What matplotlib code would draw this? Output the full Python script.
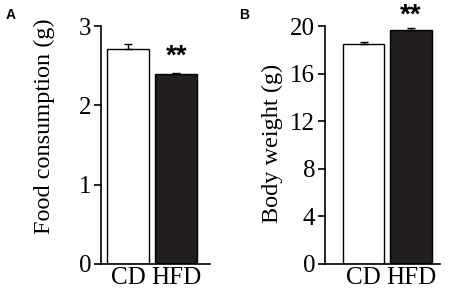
import matplotlib
matplotlib.use("Agg")
import matplotlib.pyplot as plt

categories = ["CD", "HFD"]
food_mean = [2.71, 2.39]
food_err = [0.06, 0.02]
weight_mean = [18.5, 19.7]
weight_err = [0.12, 0.1]
bar_colors = ["white", "#231f20"]

serif = "Liberation Serif"
fig = plt.figure(figsize=(4.54, 2.92), dpi=100)

def panel(rect, means, errs, ylim, yticks, ylabel, xlim, width, label_x, label_y, star_y):
    ax = fig.add_axes(rect)
    x = list(range(len(categories)))
    ax.bar(x, means, width=width, color=bar_colors, edgecolor="black", linewidth=1.0, zorder=2)
    ax.errorbar(x, means, yerr=[[0] * len(errs), errs], fmt="none", ecolor="black",
                elinewidth=1.0, capsize=2.9, capthick=1.0, zorder=3)
    ax.set_xlim(*xlim)
    ax.set_ylim(*ylim)
    ax.set_yticks(yticks)
    ax.set_xticks(x)
    ax.set_xticklabels(categories, fontfamily=serif, fontsize=18)
    for t in ax.get_yticklabels():
        t.set_fontfamily(serif)
        t.set_fontsize(18)
    ax.tick_params(axis="y", length=5, width=1.2, pad=2, direction="out")
    ax.tick_params(axis="x", length=0, pad=2)
    for s in ["top", "right"]:
        ax.spines[s].set_visible(False)
    for s in ["left", "bottom"]:
        ax.spines[s].set_linewidth(1.2)
    ax.set_ylabel(ylabel, fontfamily=serif, fontsize=17.5)
    ax.yaxis.set_label_coords(label_x, label_y)
    ax.text(1, star_y, "**", ha="center", va="center", fontsize=20,
            fontweight="bold", fontfamily="Liberation Sans", clip_on=False)
    return ax

axA = panel([0.2225, 0.0959, 0.240, 0.815], food_mean, food_err, (0, 3), [0, 1, 2, 3],
            "Food consumption (g)", (-0.568, 1.705), 0.88, -0.42, 0.578, 2.62)
axB = panel([0.716, 0.0959, 0.253, 0.815], weight_mean, weight_err, (0, 20), [0, 4, 8, 12, 16, 20],
            "Body weight (g)", (-0.81, 1.61), 0.87, -0.37, 0.508, 20.9)

fig.text(11 / 454, 1 - 15 / 292, "A", ha="center", va="center", fontsize=10,
         fontweight="bold", fontfamily="Liberation Sans")
fig.text(244 / 454, 1 - 15 / 292, "B", ha="center", va="center", fontsize=10,
         fontweight="bold", fontfamily="Liberation Sans")

fig.savefig("out.png", dpi=100)
